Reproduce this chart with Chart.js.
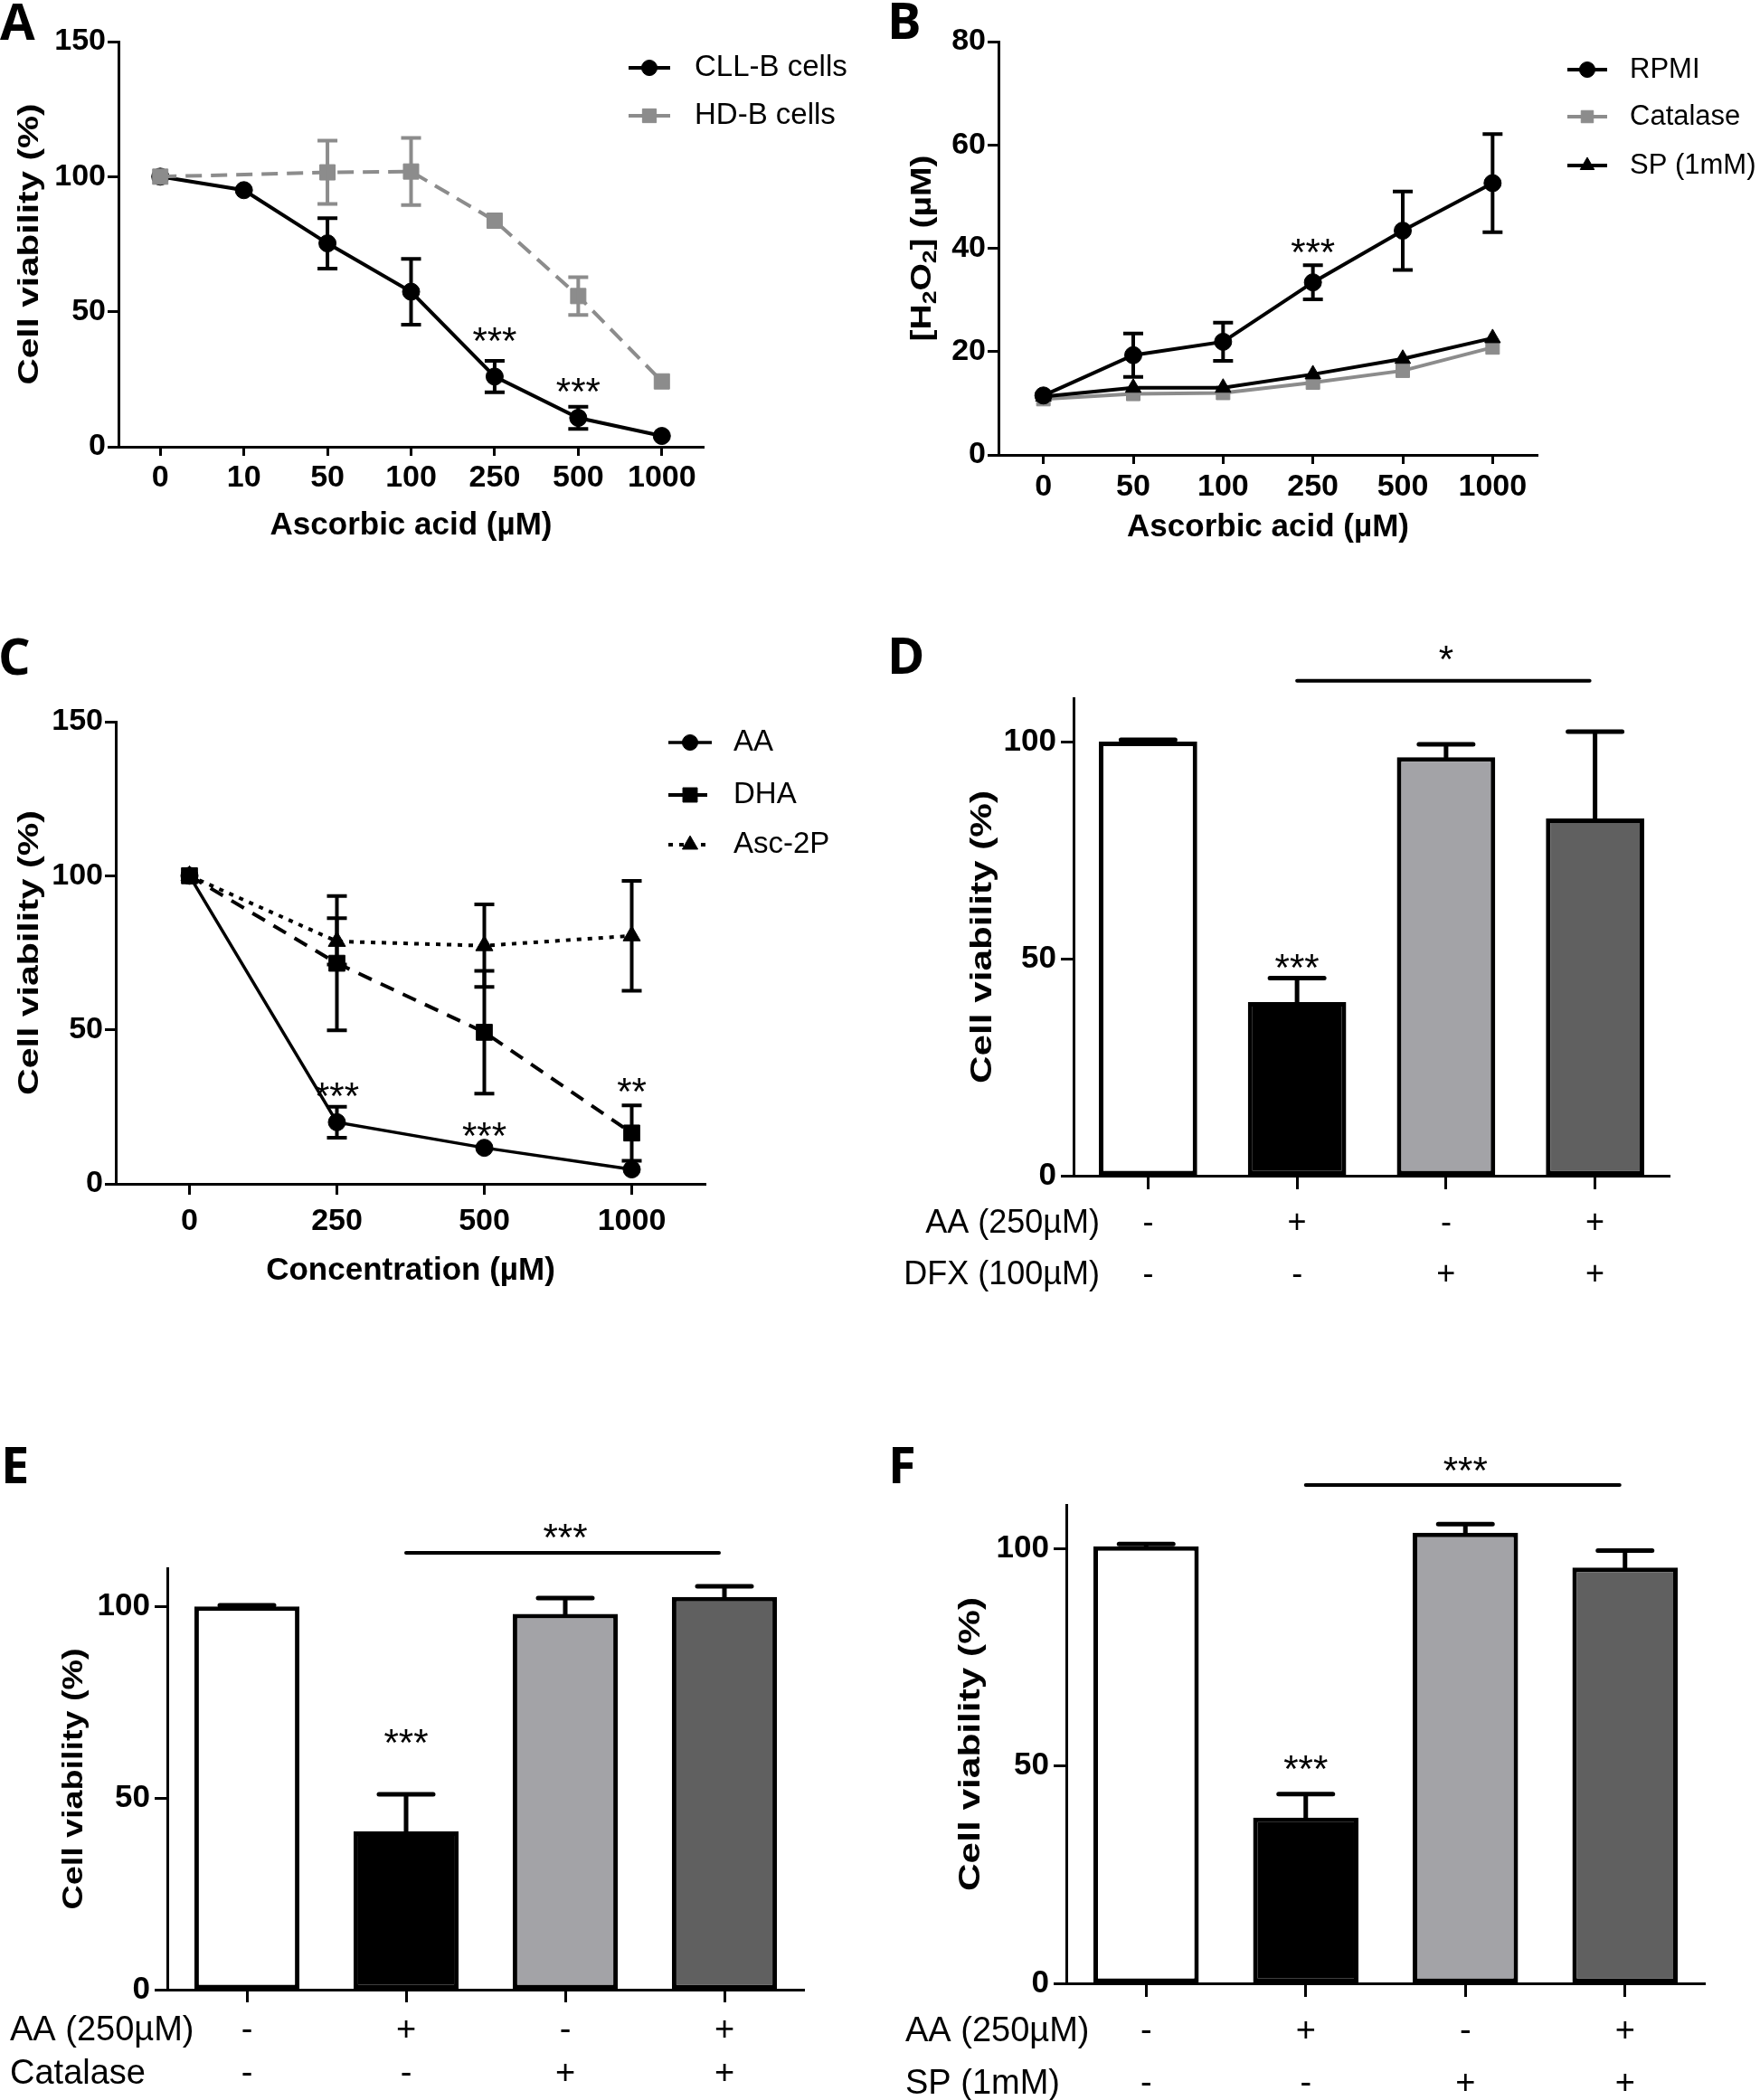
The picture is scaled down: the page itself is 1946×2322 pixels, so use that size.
<!DOCTYPE html>
<html>
<head>
<meta charset="utf-8">
<script src="https://cdn.jsdelivr.net/npm/chart.js@4.4.1/dist/chart.umd.min.js"></script>
<style>
  body { margin: 0; background: #fff; }
  #fig { position: relative; width: 1946px; height: 2322px; background: #fff; overflow: hidden; }
  #fig canvas { position: absolute; }
</style>
</head>
<body>
<div id="fig">
  <canvas id="panelA" width="973" height="620" style="left:0px;top:0px"></canvas>
  <canvas id="panelB" width="973" height="620" style="left:973px;top:0px"></canvas>
  <canvas id="panelC" width="973" height="760" style="left:0px;top:690px"></canvas>
  <canvas id="panelD" width="973" height="760" style="left:973px;top:690px"></canvas>
  <canvas id="panelE" width="973" height="722" style="left:0px;top:1600px"></canvas>
  <canvas id="panelF" width="973" height="752" style="left:973px;top:1570px"></canvas>
</div>
<script>
// panel A - viability vs ascorbic acid
const dosesA = ['0', '10', '50', '100', '250', '500', '1000']
const cllB = [100, 95, 75.3, 57.4, 26, 10.7, 4]
const cllBErr = [0, 0, 9.3, 12.2, 5.8, 4.1, 0]
const hdB = [100, null, 101.6, 101.9, 83.7, 55.8, 24.2]
const hdBErr = [0, 0, 11.7, 12.4, 0, 7, 0]

// panel B - H2O2 production
const dosesB = ['0', '50', '100', '250', '500', '1000']
const rpmi = [11.5, 19.3, 21.9, 33.4, 43.4, 52.6]
const rpmiErr = [0, 4.2, 3.7, 3.3, 7.6, 9.5]
const catalase = [10.8, 11.8, 12, 14, 16.3, 20.8]
const spB = [11.3, 13, 13, 15.6, 18.6, 22.6]

// panel C - AA vs DHA vs Asc-2P
const dosesC = ['0', '250', '500', '1000']
const aa = [100, 20, 11.7, 4.7]
const aaErr = [0, 5, 0, 0]
const dha = [100, 71.6, 49.2, 16.5]
const dhaErr = [0, 21.8, 19.9, 9]
const asc2p = [100, 78.7, 77.3, 80.5]
const asc2pErr = [0, 7.5, 13.4, 17.8]

// panels D-F - treatment combinations
const aaSigns = ['-', '+', '-', '+']
const dfxSigns = ['-', '-', '+', '+']
const catalaseSigns = ['-', '-', '+', '+']
const spSigns = ['-', '-', '+', '+']

const viabilityD = [100, 40, 96.4, 82.3]
const viabilityDErr = [0.4, 5.5, 3, 20]
const viabilityE = [100, 41.3, 98.1, 102.5]
const viabilityEErr = [0.3, 9.7, 4.1, 2.8]
const viabilityF = [100.5, 38.1, 103.6, 95.6]
const viabilityFErr = [0.5, 5.4, 2, 3.9]

const barColors = ['#ffffff', '#000000', '#a3a3a7', '#606060']
const GREY = '#8c8c8c'

const NARROW = "'Liberation Sans Narrow', 'Liberation Sans', Arial, sans-serif"
const SANS = "'Liberation Sans', Arial, sans-serif"
const LETTER = "'Open Sans', 'DejaVu Sans', sans-serif"

const viabilityTitle = [{ text: 'Cell viability (%)' }]
const h2o2Title = [
  { text: '[H' }, { text: '2', sub: true }, { text: 'O' }, { text: '2', sub: true }, { text: '] (µM)' }
]

function drawErrors(chart, spec) {
  const ctx = chart.ctx
  const y = chart.scales.y
  chart.data.datasets.forEach((ds, i) => {
    if (!ds.errors) return
    const meta = chart.getDatasetMeta(i)
    ctx.save()
    ctx.strokeStyle = ds.errorColor || ds.borderColor
    ctx.lineWidth = spec.errWidth
    ctx.lineCap = spec.oneSided ? 'round' : 'butt'
    meta.data.forEach((el, j) => {
      const v = ds.data[j]
      const e = ds.errors[j]
      if (v == null || !e) return
      const top = y.getPixelForValue(v + e)
      const bottom = y.getPixelForValue(spec.oneSided ? v : v - e)
      const half = spec.capWidth / 2
      ctx.beginPath()
      ctx.moveTo(el.x, top)
      ctx.lineTo(el.x, bottom)
      ctx.moveTo(el.x - half, top)
      ctx.lineTo(el.x + half, top)
      if (!spec.oneSided) {
        ctx.moveTo(el.x - half, bottom)
        ctx.lineTo(el.x + half, bottom)
      }
      ctx.stroke()
    })
    ctx.restore()
  })
}

function drawStar(ctx, text, x, cy) {
  ctx.font = `42px ${SANS}`
  ctx.textAlign = 'center'
  ctx.textBaseline = 'alphabetic'
  ctx.fillStyle = '#000'
  ctx.fillText(text, x, cy + 24)
}

// rotated y title, stretched along its length like the original artwork
function drawYTitle(chart, t) {
  const ctx = chart.ctx
  const ys = chart.scales.y
  const cy = (ys.top + ys.bottom) / 2
  const fontOf = p => `bold ${p.sub ? t.size * 0.68 : t.size}px ${SANS}`
  ctx.save()
  let w = 0
  t.parts.forEach(p => { ctx.font = fontOf(p); w += ctx.measureText(p.text).width })
  ctx.translate(t.x, cy)
  ctx.rotate(-Math.PI / 2)
  ctx.scale(t.length / w, 1)
  ctx.fillStyle = '#000'
  ctx.textAlign = 'left'
  ctx.textBaseline = 'alphabetic'
  let x = -w / 2
  const base = t.size * 0.36
  t.parts.forEach(p => {
    ctx.font = fontOf(p)
    ctx.fillText(p.text, x, p.sub ? base + t.size * 0.2 : base)
    x += ctx.measureText(p.text).width
  })
  ctx.restore()
}

function figurePlugin(spec) {
  return {
    id: 'figure',
    afterDatasetsDraw(chart) {
      drawErrors(chart, spec)
    },
    afterDraw(chart) {
      const ctx = chart.ctx
      const xs = chart.scales.x
      const ys = chart.scales.y
      ctx.save()

      drawYTitle(chart, spec.yTitle)

      // panel letter
      ctx.font = `bold 56px ${LETTER}`
      ctx.fillStyle = '#000'
      ctx.textAlign = 'left'
      ctx.textBaseline = 'alphabetic'
      ctx.fillText(spec.letter[0], spec.letter[1], spec.letter[2])

      // legend
      if (spec.legend) {
        const lg = spec.legend
        chart.data.datasets.forEach((ds, i) => {
          const y = lg.ys[i]
          ctx.save()
          ctx.strokeStyle = ds.borderColor
          ctx.lineWidth = ds.borderWidth
          ctx.setLineDash(ds.borderDash || [])
          ctx.beginPath()
          ctx.moveTo(lg.x0, y)
          ctx.lineTo(lg.x1, y)
          ctx.stroke()
          ctx.setLineDash([])
          ctx.fillStyle = ds.pointBackgroundColor
          ctx.strokeStyle = ds.pointBorderColor
          ctx.lineWidth = 1
          Chart.helpers.drawPoint(ctx, {
            pointStyle: ds.pointStyle, rotation: 0, radius: ds.pointRadius * 0.9, borderWidth: 1
          }, (lg.x0 + lg.x1) / 2, y)
          ctx.restore()
          ctx.font = `${lg.size}px ${SANS}`
          ctx.fillStyle = '#000'
          ctx.textAlign = 'left'
          ctx.textBaseline = 'middle'
          ctx.fillText(ds.label, lg.xText, y)
        })
      }

      // significance stars over points / bars
      ;(spec.stars || []).forEach(s => {
        drawStar(ctx, s.text, xs.getPixelForValue(s.index), ys.getPixelForValue(s.value))
      })

      // bracket between groups
      if (spec.bracket) {
        const b = spec.bracket
        const x0 = xs.getPixelForValue(b.from)
        const x1 = xs.getPixelForValue(b.to)
        const yy = ys.getPixelForValue(b.value)
        ctx.strokeStyle = '#000'
        ctx.lineWidth = 4
        ctx.lineCap = 'round'
        ctx.beginPath()
        ctx.moveTo(x0, yy)
        ctx.lineTo(x1 - 6, yy)
        ctx.stroke()
        drawStar(ctx, b.text, (x0 + x1) / 2, ys.getPixelForValue(b.starValue))
      }

      // row labels for the +/- table
      if (spec.rows) {
        const r = spec.rows
        ctx.font = `${r.size}px ${SANS}`
        ctx.fillStyle = '#000'
        ctx.textAlign = r.align
        ctx.textBaseline = 'middle'
        r.labels.forEach((lab, i) => {
          const y = xs.top + spec.xTick + spec.xTickPad + r.lineHeight * (i + 0.5)
          ctx.fillText(lab, r.x, y)
        })
      }
      ctx.restore()
    }
  }
}

function axisStyle(tickLength) {
  return {
    border: { display: true, color: '#000', width: 3 },
    grid: {
      display: true, drawOnChartArea: false, drawTicks: true, offset: false,
      tickLength, tickWidth: 3, color: '#000'
    }
  }
}

function makeChart(id, type, spec) {
  return new Chart(document.getElementById(id), {
    type,
    data: { labels: spec.labels, datasets: spec.datasets },
    options: {
      responsive: false,
      animation: false,
      events: [],
      spanGaps: true,
      layout: { padding: spec.padding },
      plugins: { legend: { display: false }, tooltip: { enabled: false } },
      scales: {
        x: {
          type: 'category',
          offset: true,
          ...axisStyle(spec.xTick),
          ticks: {
            color: '#000', padding: spec.xTickPad, maxRotation: 0, autoSkip: false,
            font: spec.xFont
          },
          title: {
            display: !!spec.xTitle, text: spec.xTitle || '', color: '#000',
            font: { family: SANS, size: 35, weight: 'bold', lineHeight: 1.2 },
            padding: { top: 0, bottom: spec.xTitlePad || 0 }
          },
          afterFit: s => { s.height = spec.xHeight }
        },
        y: {
          min: 0,
          max: spec.yMax,
          ...axisStyle(spec.yTick),
          ticks: {
            stepSize: spec.yStep, includeBounds: false, color: '#000', padding: spec.yTickPad,
            font: { family: NARROW, size: spec.yFontSize, weight: 'bold' }
          },
          title: { display: false },
          afterFit: s => { s.width = spec.yWidth }
        }
      }
    },
    plugins: [figurePlugin(spec)]
  })
}

function lineSet(label, data, errors, color, style, radius, extra) {
  return Object.assign({
    label, data, errors,
    borderColor: color, backgroundColor: color,
    pointBackgroundColor: color, pointBorderColor: color,
    pointStyle: style, pointRadius: radius, pointBorderWidth: 1,
    borderWidth: 4, tension: 0, spanGaps: true
  }, extra || {})
}

const tickFontLine = { family: NARROW, size: 34, weight: 'bold', lineHeight: 1.2 }

// A
makeChart('panelA', 'line', {
  labels: dosesA,
  datasets: [
    lineSet('CLL-B cells', cllB, cllBErr, '#000', 'circle', 9.5, { order: 2 }),
    lineSet('HD-B cells', hdB, hdBErr, GREY, 'rect', 12, { borderDash: [18, 10], order: 1 })
  ],
  padding: { left: 0, top: 46, right: 195, bottom: 0 },
  xTick: 10, xTickPad: 4, xFont: tickFontLine, xHeight: 126, xTitle: 'Ascorbic acid (µM)', xTitlePad: 18,
  yMax: 150, yStep: 50, yTick: 12, yTickPad: 2, yFontSize: 34, yWidth: 131,
  yTitle: { parts: viabilityTitle, size: 32, length: 311, x: 30 },
  errWidth: 4, capWidth: 22,
  letter: ['A', 0, 44],
  legend: { x0: 695, x1: 741, xText: 768, ys: [75, 128], size: 33 },
  stars: [{ index: 4, value: 42.5, text: '***' }, { index: 5, value: 23.9, text: '***' }]
})

// B
makeChart('panelB', 'line', {
  labels: dosesB,
  datasets: [
    lineSet('RPMI', rpmi, rpmiErr, '#000', 'circle', 9.5, { order: 1 }),
    lineSet('Catalase', catalase, null, GREY, 'rect', 10.6, { order: 3 }),
    lineSet('SP (1mM)', spB, null, '#000', 'triangle', 10, { order: 2 })
  ],
  padding: { left: 0, top: 46, right: 246, bottom: 0 },
  xTick: 10, xTickPad: 5, xFont: tickFontLine, xHeight: 117, xTitle: 'Ascorbic acid (µM)', xTitlePad: 16,
  yMax: 80, yStep: 20, yTick: 12, yTickPad: 2, yFontSize: 34, yWidth: 131,
  yTitle: { parts: h2o2Title, size: 32, length: 206, x: 44 },
  errWidth: 4, capWidth: 22,
  letter: ['B', 8, 43],
  legend: { x0: 760, x1: 804, xText: 829, ys: [77, 129, 183], size: 31 },
  stars: [{ index: 3, value: 40.9, text: '***' }]
})

// C
makeChart('panelC', 'line', {
  labels: dosesC,
  datasets: [
    lineSet('AA', aa, aaErr, '#000', 'circle', 9.5, { borderWidth: 3.5 }),
    lineSet('DHA', dha, dhaErr, '#000', 'rect', 12.5, { borderDash: [16, 11] }),
    lineSet('Asc-2P', asc2p, asc2pErr, '#000', 'triangle', 11, { borderDash: [5, 7] })
  ],
  padding: { left: 0, top: 108, right: 193, bottom: 0 },
  xTick: 12, xTickPad: 9, xFont: tickFontLine, xHeight: 141, xTitle: 'Concentration (µM)', xTitlePad: 24,
  yMax: 150, yStep: 50, yTick: 12, yTickPad: 2, yFontSize: 34, yWidth: 128,
  yTitle: { parts: viabilityTitle, size: 32, length: 315, x: 30 },
  errWidth: 4, capWidth: 22,
  letter: ['C', -2, 56],
  legend: { x0: 739, x1: 787, xText: 811, ys: [131, 189, 244], size: 33 },
  stars: [
    { index: 1, value: 31.5, text: '***' },
    { index: 2, value: 18.6, text: '***' },
    { index: 3, value: 32.9, text: '**' }
  ]
})

function barSpec(values, errors, rowA, rowB, opts) {
  return Object.assign({
    labels: rowA.map((s, i) => [s, rowB[i]]),
    datasets: [{
      label: 'Cell viability', data: values, errors, errorColor: '#000',
      backgroundColor: barColors, borderColor: '#000', borderWidth: 5, borderSkipped: false,
      barPercentage: 0.66, categoryPercentage: 1
    }],
    yMax: 110, yStep: 50, yTick: 14, yTickPad: 5, yFontSize: 35,
    errWidth: 5, capWidth: 60, oneSided: true
  }, opts)
}

// D
makeChart('panelD', 'bar', barSpec(viabilityD, viabilityDErr, aaSigns, dfxSigns, {
  padding: { left: 0, top: 82, right: 100, bottom: 0 },
  xTick: 15, xTickPad: 10, xHeight: 150,
  xFont: { family: SANS, size: 36, lineHeight: 57 / 36 },
  yWidth: 214,
  yTitle: { parts: viabilityTitle, size: 33, length: 324, x: 111 },
  letter: ['D', 8, 55],
  stars: [{ index: 1, value: 50.1, text: '***' }],
  bracket: { from: 1, to: 3, value: 114, starValue: 121, text: '*' },
  rows: { labels: ['AA (250µM)', 'DFX (100µM)'], x: 243, align: 'right', size: 36, lineHeight: 57 }
}))

// E
makeChart('panelE', 'bar', barSpec(viabilityE, viabilityEErr, aaSigns, catalaseSigns, {
  padding: { left: 0, top: 134, right: 84, bottom: 0 },
  xTick: 14, xTickPad: 8, xHeight: 122,
  xFont: { family: SANS, size: 38, lineHeight: 48 / 38 },
  yWidth: 185,
  yTitle: { parts: viabilityTitle, size: 31, length: 289, x: 80 },
  letter: ['E', 1, 40],
  stars: [{ index: 1, value: 66.9, text: '***' }],
  bracket: { from: 1, to: 3, value: 114, starValue: 120.4, text: '***' },
  rows: { labels: ['AA (250µM)', 'Catalase'], x: 11, align: 'left', size: 38, lineHeight: 48 }
}))

// F
makeChart('panelF', 'bar', barSpec(viabilityF, viabilityFErr, aaSigns, spSigns, {
  padding: { left: 0, top: 94, right: 61, bottom: 0 },
  xTick: 15, xTickPad: 10, xHeight: 129,
  xFont: { family: SANS, size: 38, lineHeight: 58 / 38 },
  yWidth: 206,
  yTitle: { parts: viabilityTitle, size: 33, length: 325, x: 98 },
  letter: ['F', 9, 70],
  stars: [{ index: 1, value: 51.3, text: '***' }],
  bracket: { from: 1, to: 3, value: 114.6, starValue: 120, text: '***' },
  rows: { labels: ['AA (250µM)', 'SP (1mM)'], x: 28, align: 'left', size: 38, lineHeight: 58 }
}))
</script>
</body>
</html>
